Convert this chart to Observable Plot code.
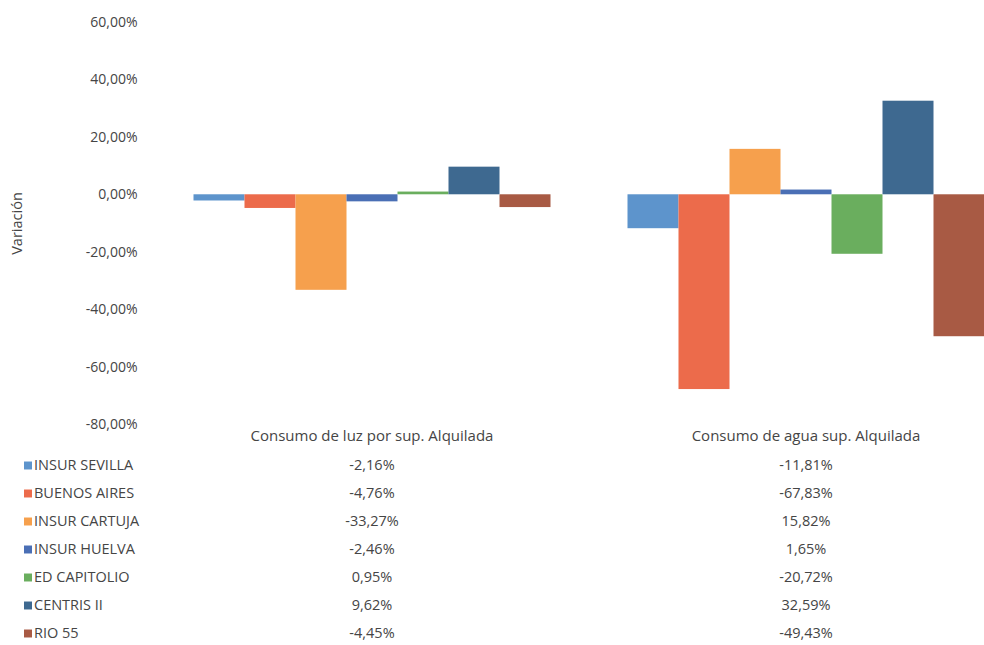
<!DOCTYPE html>
<html>
<head>
<meta charset="utf-8">
<script src="https://cdn.jsdelivr.net/npm/d3@7"></script>
<script src="https://cdn.jsdelivr.net/npm/@observablehq/plot@0.6"></script>
<style>
  html, body { margin: 0; padding: 0; background: #fff; }
  #wrap { width: 984px; height: 645px; overflow: hidden; position: relative; }
  #wrap svg { display: block; overflow: visible; }
</style>
</head>
<body>
<div id="wrap"></div>
<script>
// Indicator groups (one cluster of bars each)
const groups = ["Consumo de luz por sup. Alquilada", "Consumo de agua sup. Alquilada"];

// Buildings (one bar per group each)
const buildings = ["INSUR SEVILLA", "BUENOS AIRES", "INSUR CARTUJA", "INSUR HUELVA", "ED CAPITOLIO", "CENTRIS II", "RIO 55"];

// Variation in percent, in the same order as the buildings
const luzValues = [-2.16, -4.76, -33.27, -2.46, 0.95, 9.62, -4.45];
const aguaValues = [-11.81, -67.83, 15.82, 1.65, -20.72, 32.59, -49.43];

// Y axis ticks (percent)
const yTicks = [-80, -60, -40, -20, 0, 20, 40, 60];

// Series colours
const colors = ["#5d94cc", "#ec6b4b", "#f6a04d", "#4a6fb5", "#6aae5e", "#3e6990", "#a85a44"];

const rows = [];
buildings.forEach((b, i) => {
  rows.push({group: groups[0], building: b, value: luzValues[i]});
  rows.push({group: groups[1], building: b, value: aguaValues[i]});
});

const pct = v => v.toFixed(2).replace(".", ",") + "%";
const textColor = "#454545";
const font = "'Open Sans', Lato, sans-serif";

// Shared horizontal layout for both panels
const W = 984, ML = 154.5, MR = -38.5;
const bandOpts = {domain: groups, paddingInner: 0.1774, paddingOuter: 0.0887};

const chart = Plot.plot({
  width: W,
  height: 450,
  marginLeft: ML,
  marginRight: MR,
  marginTop: 22,
  marginBottom: 26,
  style: {fontFamily: font, fontSize: "14px", color: textColor, background: "transparent"},
  fx: {...bandOpts},
  x: {domain: buildings, padding: 0, axis: null},
  y: {domain: [-80, 60]},
  color: {domain: buildings, range: colors},
  marks: [
    Plot.barY(rows, {fx: "group", x: "building", y: "value", fill: "building"}),
    // the y axis sits on the first facet's left edge, so offsets reach back into the margin
    Plot.axisY({
      ticks: yTicks,
      tickFormat: pct,
      tickSize: 0,
      tickPadding: 56,
      label: null,
      fontSize: 14
    }),
    Plot.axisY({
      ticks: [],
      label: "Variación",
      labelAnchor: "center",
      labelArrow: "none",
      labelOffset: 182,
      dy: -7,
      fontSize: 14.5
    }),
    Plot.axisFx({anchor: "bottom", tickSize: 0, tickPadding: 6, label: null, fontSize: 15})
  ]
});

// Data table under the chart: legend swatch, building name and both values
const table = Plot.plot({
  width: W,
  height: 197,
  marginLeft: ML,
  marginRight: MR,
  marginTop: 0,
  marginBottom: 0,
  style: {fontFamily: font, fontSize: "14px", color: textColor, background: "transparent"},
  x: {type: "band", ...bandOpts, axis: null},
  y: {type: "band", domain: buildings, padding: 0, axis: null},
  color: {domain: buildings, range: colors},
  marks: [
    Plot.text(rows, {x: "group", y: "building", text: d => pct(d.value), fill: textColor, fontSize: 14.5}),
    Plot.dot(buildings, {y: d => d, frameAnchor: "left", dx: -127, symbol: "square", r: 4.5, fill: d => d, stroke: null}),
    Plot.text(buildings, {y: d => d, text: d => d, frameAnchor: "left", textAnchor: "start", dx: -121, fill: textColor, fontSize: 14.5})
  ]
});

const wrap = document.getElementById("wrap");
wrap.append(chart, table);
</script>
</body>
</html>
